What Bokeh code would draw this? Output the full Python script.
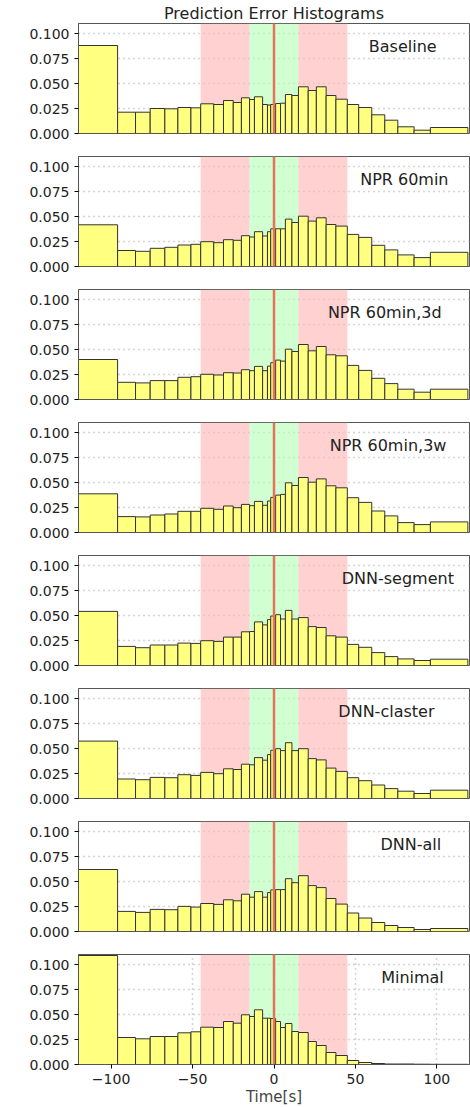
from bokeh.plotting import figure
from bokeh.layouts import column
from bokeh.models import FixedTicker, NumeralTickFormatter, BoxAnnotation, Span, Range1d
from bokeh.core.properties import value
from bokeh.embed import file_html
from bokeh.resources import INLINE

edges = [-120, -96, -85, -76, -67, -59, -51, -45, -37, -31, -25, -20, -15, -12, -7, -4, -2,
         1, 4, 7, 11, 15, 21, 26, 32, 38, 45, 52, 60, 68, 76, 86, 96, 119]

names = ["Baseline", "NPR 60min", "NPR 60min,3d", "NPR 60min,3w",
         "DNN-segment", "DNN-claster", "DNN-all", "Minimal"]

baseline = [.088, .0213, .0213, .025, .0247, .026, .0257, .0297, .029, .033, .031, .0357, .034, .0367,
            .029, .0285, .029, .030, .0303, .039, .038, .0467, .043, .0467, .038, .0343, .029, .026,
            .0187, .0133, .0067, .0033, .006]
npr60 = [.0417, .016, .0152, .0182, .0192, .0215, .0222, .0248, .0238, .0268, .0262, .0308, .0295, .0348,
         .0305, .0348, .0377, .0377, .0377, .0474, .044, .0503, .0454, .0487, .042, .0404, .0321, .0291,
         .0212, .0166, .0116, .0089, .0142]
npr3d = [.040, .0172, .0166, .0189, .0189, .0222, .0228, .0252, .0245, .0268, .0265, .0298, .0288, .0331,
         .0288, .0334, .0368, .0394, .0384, .0503, .048, .055, .0487, .053, .0447, .0437, .0341, .0291,
         .0212, .0159, .0103, .0073, .0103]
npr3w = [.0387, .0159, .0156, .0175, .0185, .0212, .0212, .0242, .0232, .0265, .0248, .0281, .0268, .0311,
         .0272, .0315, .0351, .0374, .0381, .0497, .047, .055, .0503, .0536, .0467, .0447, .0348, .0301,
         .0215, .0166, .0099, .0079, .0106]
dnn_segment = [.0541, .0191, .0178, .0205, .0205, .0224, .0221, .0248, .0241, .0284, .0284, .0337, .034,
               .0436, .0406, .0459, .0495, .0508, .0465, .0551, .0465, .0479, .0389, .038, .0297, .0284,
               .0211, .0182, .0129, .0089, .0066, .005, .0063]
dnn_claster = [.0574, .0195, .0188, .0211, .0208, .0238, .0231, .0261, .0248, .0297, .029, .0343, .0337,
               .0409, .0383, .0439, .0482, .0498, .0479, .0558, .0479, .0498, .0399, .0386, .0304, .0271,
               .0208, .0178, .0135, .0099, .0073, .005, .0083]
dnn_all = [.062, .0201, .0191, .0221, .0218, .0251, .0244, .028, .0271, .0317, .0307, .0373, .0343, .0399,
           .0343, .0389, .0416, .0419, .0419, .0528, .0488, .0558, .0459, .0439, .033, .0274, .0185, .0135,
           .009, .006, .004, .002, .003]
minimal = [.109, .027, .0257, .028, .028, .0317, .0327, .0373, .037, .043, .0413, .0497, .048, .0547,
           .0463, .0463, .046, .043, .037, .041, .033, .032, .023, .019, .012, .009, .004, .002, .001,
           .0005, .0005, .0003, .0002]
series = [baseline, npr60, npr3d, npr3w, dnn_segment, dnn_claster, dnn_all, minimal]

label_x = [79, 80, 68, 70, 76, 69, 84, 85]
yticks = [0, 0.025, 0.05, 0.075, 0.1]
xticks = [-100, -50, 0, 50, 100]

figs = []
for i, (nm, vals) in enumerate(zip(names, series)):
    last = i == len(names) - 1
    first = i == 0
    p = figure(frame_width=391, frame_height=110, output_backend="svg", toolbar_location=None,
               x_range=Range1d(-120, 120), y_range=Range1d(0, 0.11),
               min_border_left=78, min_border_right=1,
               min_border_top=0 if first else 12, min_border_bottom=11 if not last else 4,
               title="Prediction Error Histograms" if first else None)
    if first:
        p.title.align = "center"
        p.title.text_font = "DejaVu Sans"
        p.title.text_font_size = "16px"
        p.title.text_font_style = "normal"
        p.title.text_color = "#222222"
        p.title.standoff = 2
    p.add_layout(BoxAnnotation(left=-45, right=-15, fill_color="#ffb3b3", fill_alpha=0.6, line_alpha=0, level="underlay"))
    p.add_layout(BoxAnnotation(left=-15, right=15, fill_color="#b3ffb3", fill_alpha=0.6, line_alpha=0, level="underlay"))
    p.add_layout(BoxAnnotation(left=15, right=45, fill_color="#ffb3b3", fill_alpha=0.6, line_alpha=0, level="underlay"))
    p.quad(left=edges[:-1], right=edges[1:], bottom=0, top=vals,
           fill_color="#ffff80", line_color="#333333", line_width=1)
    p.add_layout(Span(location=0, dimension="height", line_color="#e8735a", line_width=2.5))
    p.text(x=[label_x[i]], y=[0.087], text=[nm], text_align="center", text_baseline="middle",
           text_font=value("DejaVu Sans"), text_font_size="16px", text_color="#222222")
    p.ygrid.ticker = FixedTicker(ticks=yticks)
    p.ygrid.grid_line_dash = "1 4"
    p.ygrid.grid_line_color = "#aaaaaa"
    p.ygrid.grid_line_width = 1.5
    if last:
        p.xgrid.ticker = FixedTicker(ticks=xticks)
        p.xgrid.grid_line_dash = "1 4"
        p.xgrid.grid_line_color = "#aaaaaa"
        p.xgrid.grid_line_width = 1.5
        p.xaxis.ticker = FixedTicker(ticks=xticks)
        p.xaxis.major_label_overrides = {t: str(t).replace("-", "\u2212") for t in xticks}
        p.xaxis.axis_label = "Time[s]"
        p.xaxis.axis_label_text_font = "DejaVu Sans"
        p.xaxis.axis_label_text_font_size = "15px"
        p.xaxis.axis_label_text_font_style = "normal"
        p.xaxis.axis_label_standoff = 1
        p.xaxis.major_label_text_font = "DejaVu Sans"
        p.xaxis.major_label_text_font_size = "14px"
        p.xaxis.major_label_text_color = "#222222"
        p.xaxis.minor_tick_line_color = None
        p.xaxis.major_tick_in = 0
        p.xaxis.major_tick_out = 4
        p.xaxis.axis_line_color = "#555555"
    else:
        p.xgrid.grid_line_color = None
        p.xaxis.visible = False
    p.yaxis.ticker = FixedTicker(ticks=yticks)
    p.yaxis.formatter = NumeralTickFormatter(format="0.000")
    p.yaxis.major_label_text_font = "DejaVu Sans"
    p.yaxis.major_label_text_font_size = "14px"
    p.yaxis.major_label_text_color = "#222222"
    p.yaxis.minor_tick_line_color = None
    p.yaxis.major_tick_in = 0
    p.yaxis.major_tick_out = 4
    p.yaxis.axis_line_color = "#555555"
    p.outline_line_color = "#555555"
    figs.append(p)

layout = column(*figs, spacing=0)
open("out.html", "w").write(file_html(layout, INLINE))
